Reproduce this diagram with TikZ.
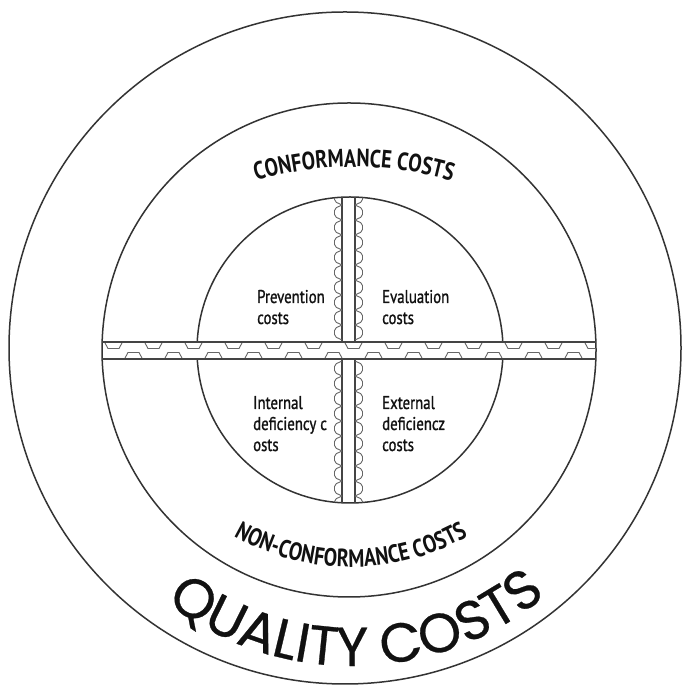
\documentclass[tikz,border=0pt]{standalone}
\usepackage{fontspec}
\usetikzlibrary{decorations.text}
\newfontfamily\condfam[FakeStretch=0.8]{PT Sans}
\newfontfamily\labfam[FakeStretch=0.8,FakeBold=1]{PT Sans}
\newfontfamily\qfam[FakeBold=0.5]{Poppins}
\newcommand\headfont{\condfam\bfseries\fontsize{25}{25}\selectfont}
\newcommand\qualfont{\qfam\fontsize{55}{55}\selectfont}
\newcommand\labfont{\labfam\fontsize{18.5}{21}\selectfont}
\definecolor{ring}{HTML}{333333}
\definecolor{band}{HTML}{444444}
\definecolor{patt}{HTML}{666666}
\definecolor{ink}{HTML}{111111}
\begin{document}
\begin{tikzpicture}[x=1pt,y=1pt,
  ringline/.style={draw=ring,line width=1.5pt},
  bandline/.style={draw=band,line width=1.2pt},
  pattline/.style={draw=patt,line width=0.9pt,line join=round},
  lab/.style={align=left,font=\labfont,text=ink,inner sep=0pt,anchor=base west}]
\useasboundingbox (0,0) rectangle (682,687);
\fill[white] (0,0) rectangle (682,687);
% rings
\draw[ringline] (345,339) circle[radius=336pt];
\draw[ringline] (349,337) circle[radius=247pt];
\draw[ringline] (350,337) circle[radius=153pt];
% horizontal band
\fill[white] (103,328) rectangle (595,345);
\begin{scope}
  \clip (349,337) circle[radius=247pt];
  \foreach \k in {0,...,12}{
    \pgfmathsetmacro\cx{113.5+40*\k}
    \draw[pattline] (\cx-9,345) -- (\cx-5.5,338.5) -- (\cx+5.5,338.5) -- (\cx+9,345);
    \draw[pattline] (\cx+11,328) -- (\cx+14.5,334.5) -- (\cx+25.5,334.5) -- (\cx+29,328);
  }
  \draw[bandline] (95,345) -- (605,345);
  \draw[bandline] (95,328) -- (605,328);
\end{scope}
% vertical band
\begin{scope}
  \clip (350,337) circle[radius=153pt];
  \draw[bandline] (342,345) -- (342,495);
  \draw[bandline] (355,345) -- (355,495);
  \draw[bandline] (342,328) -- (342,180);
  \draw[bandline] (355,328) -- (355,180);
  \foreach \k in {0,...,9}{
    \pgfmathsetmacro\yy{347+15*\k}
    \draw[pattline,rounded corners=2pt] (342,\yy) -- (334.5,\yy+3.5) -- (334.5,\yy+11.5) -- (342,\yy+15);
    \draw[pattline,rounded corners=2pt] (355,\yy) -- (362.5,\yy+3.5) -- (362.5,\yy+11.5) -- (355,\yy+15);
    \pgfmathsetmacro\yb{311-15*\k}
    \draw[pattline,rounded corners=2pt] (342,\yb) -- (334.5,\yb+3.5) -- (334.5,\yb+11.5) -- (342,\yb+15);
    \draw[pattline,rounded corners=2pt] (355,\yb) -- (362.5,\yb+3.5) -- (362.5,\yb+11.5) -- (355,\yb+15);
  }
\end{scope}
% curved titles
\path[decorate,decoration={text along path,text={|\headfont|CONFORMANCE COSTS},text align=center,text color=ink}]
  ([shift={(354,170)}]110:350pt) arc[start angle=110,end angle=70,radius=350pt];
\path[decorate,decoration={text along path,text={|\headfont|NON-CONFORMANCE COSTS},text align=center,text color=ink}]
  ([shift={(351,357)}]220:237pt) arc[start angle=220,end angle=320,radius=237pt];
\path[decorate,decoration={text along path,text={|\qualfont|QUALITY COSTS},text align=center,text color=ink}]
  ([shift={(352,323)}]191:302pt) arc[start angle=191,end angle=351,radius=302pt];
% quadrant labels
\node[lab] (prev) at (257,363) {Prevention\\costs};
\node[lab] (eval) at (382,363) {Evaluation\\costs};
\node[lab] (intd) at (253,236) {Internal\\deficiency c\\osts};
\node[lab] (extd) at (382,236) {External\\deficiencz\\costs};
\end{tikzpicture}
\end{document}
